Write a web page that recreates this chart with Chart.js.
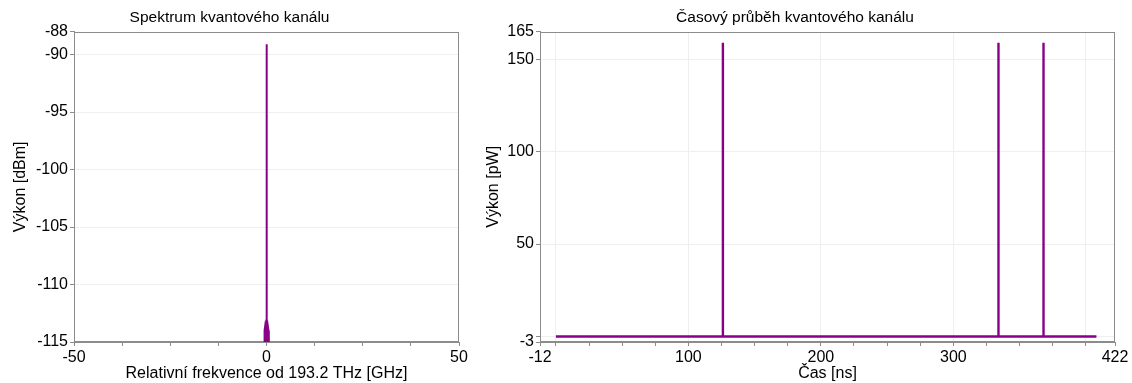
<!DOCTYPE html>
<html>
<head>
<meta charset="utf-8">
<script src="https://cdn.jsdelivr.net/npm/chart.js@4.4.0/dist/chart.umd.min.js"></script>
<style>
  body { margin: 0; background: #fff; }
  .wrap { display: flex; }
  #left { position: relative; width: 475px; height: 383px; }
  #right { position: relative; width: 657px; height: 383px; }
</style>
</head>
<body>
<div class="wrap">
  <div id="left"><canvas id="spectrumChart"></canvas></div>
  <div id="right"><canvas id="timeChart"></canvas></div>
</div>
<script>
// Spektrum kvantoveho kanalu
const freqGHz     = [-50, -0.6, -0.5, -0.3, -0.1, 0, 0.1, 0.3, 0.5, 0.6, 50];
const spectrumDbm = [-140, -140, -114.0, -113.5, -113.8, -89.1, -113.8, -113.5, -114.0, -140, -140];
const freqTicks   = [-50, -37.5, -25, -12.5, 0, 12.5, 25, 37.5, 50];
const freqLabels  = [-50, 0, 50];
const freqGrid    = [];
const dbmTicks    = [-115, -110, -105, -100, -95, -90, -88];
const dbmLabels   = [-115, -110, -105, -100, -95, -90, -88];
const dbmGrid     = [-110, -105, -100, -95, -90];

// Casovy prubeh kvantoveho kanalu
const timeNs  = [0, 125.9, 126.0, 126.1, 333.9, 334.0, 334.1, 367.9, 368.0, 368.1, 408];
const powerPw = [0, 0, 159, 0, 0, 159, 0, 0, 159, 0, 0];
const timeTicks  = [-12, 0, 25, 50, 75, 100, 125, 150, 175, 200, 225, 250, 275, 300, 325, 350, 375, 400, 422];
const timeLabels = [-12, 100, 200, 300, 422];
const timeGrid   = [0, 100, 200, 300, 400];
const pwTicks  = [-3, 0, 50, 100, 150, 165];
const pwLabels = [-3, 50, 100, 150, 165];
const pwGrid   = [0, 50, 100, 150];

const lineColor = '#880088';
const axisColor = '#8c8c8c';
const gridColor = '#efefef';
const fontFamily = '"Liberation Sans", Arial, sans-serif';

// box around the plot area
const frame = {
  id: 'frame',
  beforeDatasetsDraw(chart) {
    const { ctx, chartArea: a } = chart;
    ctx.save();
    ctx.strokeStyle = axisColor;
    ctx.lineWidth = 1;
    ctx.strokeRect(Math.round(a.left) + 0.5, Math.round(a.top) + 0.5,
      Math.round(a.right - a.left) - 1, Math.round(a.bottom - a.top) - 1);
    ctx.restore();
  }
};

function axis(opts) {
  return {
    type: 'linear',
    min: opts.ticks[0],
    max: opts.ticks[opts.ticks.length - 1],
    afterBuildTicks: scale => { scale.ticks = opts.ticks.map(v => ({ value: v })); },
    afterFit: scale => {
      if (opts.width) scale.width = opts.width;
      if (opts.height) scale.height = opts.height;
    },
    border: { color: axisColor },
    grid: {
      color: ctx => (ctx.tick && opts.grid.includes(ctx.tick.value)) ? gridColor : 'rgba(0,0,0,0)',
      tickColor: axisColor,
      tickLength: 4,
      drawOnChartArea: true
    },
    ticks: {
      autoSkip: false,
      maxRotation: 0,
      padding: 2,
      color: '#000',
      font: { family: fontFamily, size: 16 },
      callback: v => opts.labels.includes(v) ? String(v) : ''
    },
    title: {
      display: true,
      text: opts.title,
      color: '#000',
      font: { family: fontFamily, size: 16 },
      padding: opts.titlePadding
    }
  };
}

function makeChart(id, xs, ys, cfg) {
  const ctx = document.getElementById(id).getContext('2d');
  return new Chart(ctx, {
    type: 'line',
    data: {
      datasets: [{
        data: xs.map((x, i) => ({ x: x, y: ys[i] })),
        borderColor: lineColor,
        backgroundColor: lineColor,
        borderWidth: cfg.lineWidth,
        pointRadius: 0,
        tension: 0,
        fill: cfg.fill
      }]
    },
    options: {
      responsive: true,
      maintainAspectRatio: false,
      animation: false,
      layout: { padding: { left: 0, right: cfg.right, top: 0, bottom: 0 } },
      plugins: {
        legend: { display: false },
        tooltip: { enabled: false },
        title: {
          display: true,
          text: cfg.title,
          color: '#000',
          font: { family: fontFamily, size: 15.5, weight: 'normal' },
          padding: { top: 8, bottom: 5 }
        }
      },
      scales: { x: cfg.x, y: cfg.y }
    },
    plugins: [frame]
  });
}

makeChart('spectrumChart', freqGHz, spectrumDbm, {
  title: 'Spektrum kvantového kanálu',
  right: 16,
  lineWidth: 2,
  fill: { target: { value: -140 } },
  x: axis({ ticks: freqTicks, labels: freqLabels, grid: freqGrid, height: 41,
            title: 'Relativní frekvence od 193.2 THz [GHz]', titlePadding: { top: 0, bottom: 0 } }),
  y: axis({ ticks: dbmTicks, labels: dbmLabels, grid: dbmGrid, width: 74,
            title: 'Výkon [dBm]', titlePadding: { top: 11, bottom: 0 } })
});

makeChart('timeChart', timeNs, powerPw, {
  title: 'Časový průběh kvantového kanálu',
  right: 17,
  lineWidth: 2.4,
  fill: false,
  x: axis({ ticks: timeTicks, labels: timeLabels, grid: timeGrid, height: 41,
            title: 'Čas [ns]', titlePadding: { top: 0, bottom: 0 } }),
  y: axis({ ticks: pwTicks, labels: pwLabels, grid: pwGrid, width: 65,
            title: 'Výkon [pW]', titlePadding: { top: 9, bottom: 0 } })
});
</script>
</body>
</html>
